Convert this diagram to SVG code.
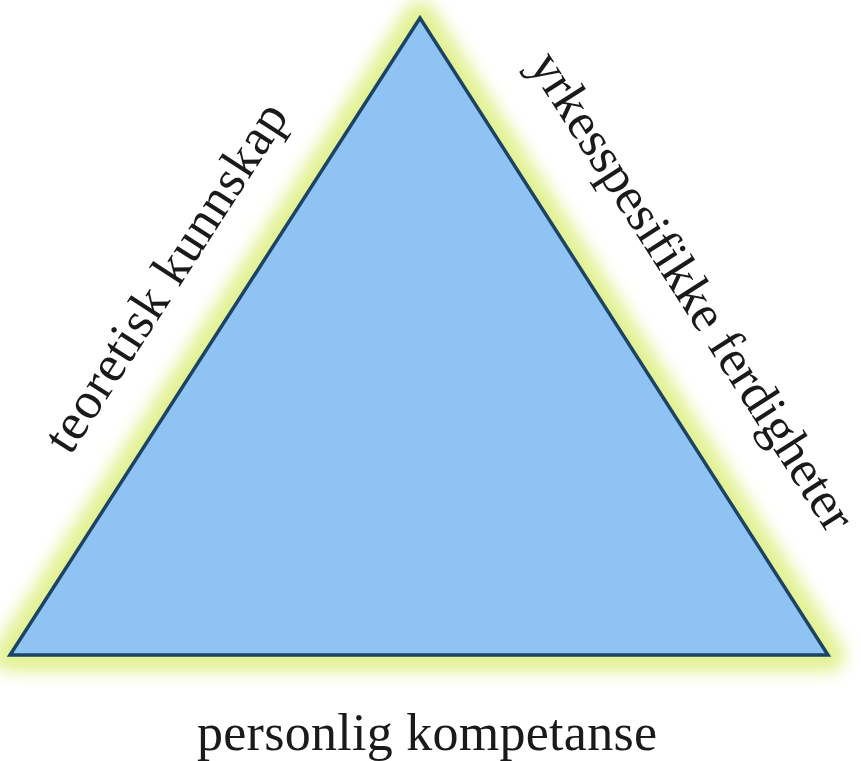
<svg xmlns="http://www.w3.org/2000/svg" width="861" height="761" viewBox="0 0 861 761">
<style>
.lbl{font-family:"Liberation Serif","DejaVu Serif",serif;font-size:52px;fill:#1a1a1a;text-anchor:middle}
</style>
<defs>
<filter id="glow" x="-20%" y="-20%" width="140%" height="140%">
<feGaussianBlur stdDeviation="8"/>
</filter>
</defs>
<rect width="861" height="761" fill="#ffffff"/>
<g id="triangle">
<polygon points="420,18 10,655 828,655" fill="#e2f294" stroke="#e2f294" stroke-width="34" stroke-linejoin="round" filter="url(#glow)"/>
<polygon points="420,18 10,655 828,655" fill="#8fc3f3" stroke="#1d4364" stroke-width="3.5" stroke-linejoin="miter"/>
</g>
<g id="label-left">
<text class="lbl" x="0" y="0" textLength="405" transform="translate(180,286) rotate(-57.2)">teoretisk kunnskap</text>
</g>
<g id="label-right">
<text class="lbl" x="0" y="0" textLength="558" transform="translate(678,300) rotate(57.4)">yrkesspesifikke ferdigheter</text>
</g>
<g id="label-bottom">
<text class="lbl" x="427" y="750" textLength="460">personlig kompetanse</text>
</g>
</svg>
